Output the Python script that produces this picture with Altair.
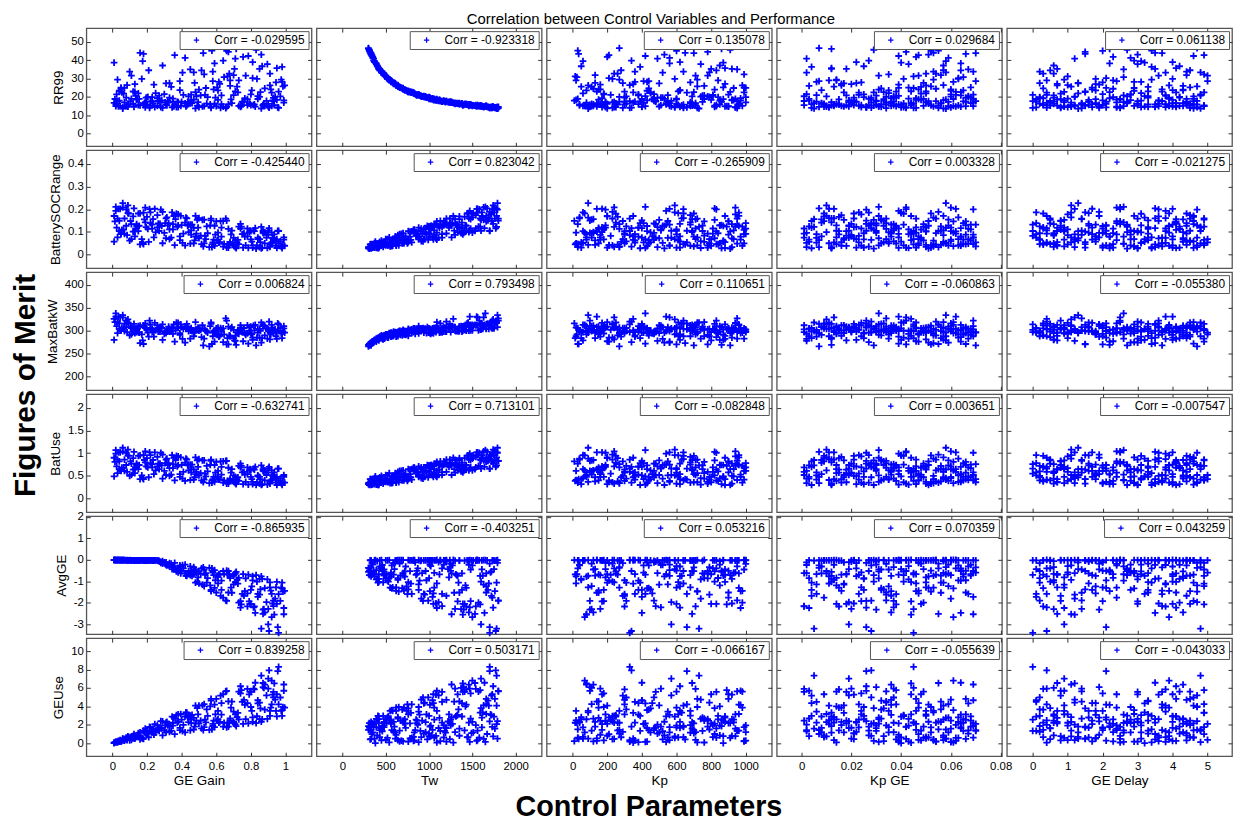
import altair as alt
import pandas as pd

# ---- control parameters (one value per simulated run) ----
GE_GAIN = [0.02, 0.95, 0.47, 0.71, 0.18, 0.86, 0.33, 0.59, 0.08, 0.99,
           0.26, 0.64, 0.41, 0.12, 0.78, 0.53, 0.05, 0.90, 0.37, 0.68,
           0.22, 0.83, 0.15, 0.50, 0.97, 0.29, 0.74, 0.44, 0.03, 0.61,
           0.88, 0.19, 0.56, 0.35, 0.80, 0.10, 0.66, 0.48, 0.93, 0.24,
           0.73, 0.07, 0.42, 0.85, 0.31, 0.58, 0.14, 0.96, 0.39, 0.69,
           0.01, 0.52, 0.81, 0.27, 0.63, 0.16, 0.92, 0.45, 0.76, 0.09,
           0.34, 0.55, 0.98, 0.20, 0.67, 0.04, 0.87, 0.30, 0.60, 0.13,
           0.79, 0.43, 0.91, 0.23, 0.70, 0.06, 0.50, 0.84, 0.38, 0.11,
           0.045, 0.915, 0.515, 0.325, 0.765, 0.175, 0.625, 0.985, 0.275, 0.455,
           0.835, 0.095, 0.575, 0.355, 0.725, 0.015, 0.875, 0.405, 0.655, 0.205,
           0.945, 0.495, 0.125, 0.785, 0.315, 0.685, 0.055, 0.545, 0.895, 0.245,
           0.605, 0.375, 0.815, 0.145, 0.475, 0.955, 0.025, 0.705, 0.425, 0.855,
           0.185, 0.645, 0.345, 0.925, 0.085, 0.565, 0.755, 0.265, 0.485, 0.035,
           0.805, 0.395, 0.675, 0.155, 0.935, 0.525, 0.285, 0.745, 0.065, 0.615,
           0.435, 0.865, 0.215, 0.595, 0.995, 0.365, 0.105, 0.715, 0.535, 0.825,
           0.235, 0.665, 0.455, 0.905, 0.135, 0.585, 0.795, 0.305, 0.975, 0.195,
           0.03, 0.51, 0.88, 0.17, 0.64, 0.36, 0.93, 0.08, 0.72, 0.45,
           0.21, 0.99, 0.57, 0.12, 0.81, 0.40, 0.68, 0.02, 0.94, 0.28,
           0.54, 0.75, 0.16, 0.87, 0.33, 0.62, 0.06, 0.47, 0.90, 0.25,
           0.78, 0.11, 0.59, 0.38, 0.96, 0.19, 0.70, 0.49, 0.84, 0.05,
           0.42, 0.66, 0.14, 0.92, 0.31, 0.57, 0.80, 0.23, 0.98, 0.09,
           0.53, 0.73, 0.35, 0.86, 0.18, 0.61, 0.44, 0.01, 0.77, 0.29,
           0.89, 0.13, 0.67, 0.39, 0.95, 0.22, 0.58, 0.82, 0.07, 0.48,
           0.71, 0.32, 0.91, 0.15, 0.63, 0.46, 0.85, 0.26, 0.74, 0.04]
TW = [1650, 420, 1120, 760, 330, 1780, 590, 1430, 980, 1260,
      1540, 360, 870, 1350, 1050, 480, 700, 1600, 1720, 640,
      1180, 310, 820, 1690, 930, 400, 1480, 1310, 540, 1090,
      690, 1760, 300, 1020, 1390, 450, 1800, 780, 1150, 620,
      1570, 1240, 350, 950, 1460, 560, 1080, 1700, 730, 1290,
      380, 1630, 520, 900, 1380, 1510, 800, 430, 1200, 1740,
      660, 1000, 570, 1410, 320, 1130, 1530, 840, 1660, 610,
      1330, 1590, 470, 960, 880, 1790, 720, 1040, 1220, 500,
      1560, 710, 440, 1270, 1010, 370, 1720, 650, 1190, 860,
      530, 1440, 310, 1610, 790, 1090, 1370, 460, 1800, 940,
      580, 1230, 1670, 340, 1500, 1060, 820, 1340, 390, 1780,
      670, 1150, 1470, 1000, 600, 1700, 880, 420, 1620, 760,
      1300, 510, 1750, 1080, 640, 1420, 350, 1200, 920, 1550,
      740, 1660, 480, 1030, 1390, 330, 1110, 1590, 830, 560,
      1260, 405, 1730, 970, 620, 1480, 1170, 300, 850, 1640,
      1350, 490, 1060, 1770, 910, 700, 1410, 1250, 550, 1000,
      1200, 860, 1460, 520, 1730, 340, 990, 1580, 640, 1320,
      430, 1090, 1680, 780, 370, 1250, 560, 1470, 910, 1790,
      700, 1150, 320, 1400, 1010, 590, 1630, 450, 1300, 830,
      1540, 1060, 390, 1710, 750, 1190, 480, 1600, 940, 660,
      1380, 310, 1020, 1500, 610, 1760, 880, 1130, 410, 1450,
      1660, 540, 1240, 330, 1560, 720, 960, 1280, 500, 1700,
      1110, 800, 1350, 570, 1050, 1610, 460, 1430, 680, 1780,
      360, 1170, 620, 1490, 890, 1330, 420, 1040, 1740, 760]
KP = [420, 880, 150, 610, 35, 730, 290, 960, 520, 80,
      680, 340, 810, 200, 460, 990, 120, 570, 250, 760,
      390, 910, 60, 640, 310, 850, 180, 540, 720, 20,
      440, 940, 270, 600, 830, 360, 100, 700, 480, 160,
      980, 230, 560, 790, 40, 410, 920, 330, 620, 140,
      870, 500, 210, 750, 380, 70, 660, 950, 300, 590,
      110, 840, 430, 260, 780, 10, 690, 470, 900, 350,
      170, 630, 240, 1000, 550, 90, 820, 400, 190, 710,
      560, 150, 830, 410, 970, 60, 290, 720, 480, 900,
      230, 640, 30, 880, 350, 760, 110, 520, 950, 270,
      680, 190, 820, 420, 40, 600, 990, 310, 740, 170,
      870, 240, 510, 940, 130, 660, 380, 800, 90, 450,
      710, 25, 590, 920, 330, 850, 200, 470, 780, 140,
      620, 960, 260, 530, 80, 700, 430, 890, 180, 360,
      750, 50, 640, 300, 980, 120, 550, 860, 220, 400,
      690, 15, 930, 340, 810, 160, 600, 1000, 270, 490,
      330, 760, 120, 590, 900, 210, 470, 830, 50, 680,
      280, 970, 400, 140, 620, 860, 20, 540, 740, 190,
      930, 360, 650, 100, 510, 880, 240, 790, 160, 450,
      710, 30, 560, 940, 300, 680, 130, 820, 420, 990,
      250, 600, 870, 70, 500, 720, 180, 950, 390, 610,
      110, 840, 270, 530, 960, 80, 690, 350, 780, 230,
      570, 910, 150, 440, 800, 60, 640, 300, 1000, 200,
      490, 850, 90, 700, 380, 560, 920, 170, 620, 430]
KP_GE = [0.031, 0.012, 0.058, 0.044, 0.066, 0.005, 0.022, 0.051, 0.038, 0.069,
         0.016, 0.027, 0.062, 0.009, 0.047, 0.035, 0.054, 0.019, 0.041, 0.003,
         0.065, 0.029, 0.050, 0.011, 0.037, 0.057, 0.024, 0.068, 0.014, 0.046,
         0.032, 0.060, 0.007, 0.043, 0.018, 0.053, 0.026, 0.064, 0.001, 0.039,
         0.049, 0.021, 0.059, 0.034, 0.013, 0.070, 0.028, 0.045, 0.008, 0.056,
         0.040, 0.017, 0.063, 0.030, 0.004, 0.052, 0.023, 0.067, 0.036, 0.010,
         0.048, 0.025, 0.061, 0.015, 0.042, 0.033, 0.055, 0.002, 0.066, 0.020,
         0.044, 0.012, 0.050, 0.037, 0.006, 0.058, 0.031, 0.069, 0.019, 0.047,
         0.013, 0.047, 0.064, 0.028, 0.036, 0.058, 0.004, 0.052, 0.020, 0.069,
         0.041, 0.009, 0.055, 0.031, 0.017, 0.061, 0.045, 0.002, 0.034, 0.067,
         0.024, 0.050, 0.007, 0.039, 0.063, 0.015, 0.029, 0.056, 0.043, 0.011,
         0.068, 0.022, 0.037, 0.003, 0.049, 0.026, 0.060, 0.018, 0.053, 0.033,
         0.008, 0.065, 0.040, 0.021, 0.057, 0.014, 0.046, 0.030, 0.001, 0.062,
         0.035, 0.010, 0.054, 0.027, 0.044, 0.070, 0.019, 0.038, 0.048, 0.006,
         0.059, 0.025, 0.042, 0.066, 0.016, 0.032, 0.051, 0.012, 0.023, 0.064,
         0.005, 0.045, 0.057, 0.028, 0.039, 0.060, 0.014, 0.034, 0.053, 0.021,
         0.054, 0.018, 0.036, 0.063, 0.009, 0.047, 0.028, 0.069, 0.013, 0.041,
         0.057, 0.003, 0.032, 0.050, 0.022, 0.066, 0.011, 0.039, 0.060, 0.026,
         0.045, 0.006, 0.053, 0.030, 0.068, 0.016, 0.042, 0.058, 0.020, 0.035,
         0.001, 0.049, 0.064, 0.024, 0.038, 0.012, 0.056, 0.029, 0.067, 0.043,
         0.008, 0.052, 0.033, 0.061, 0.017, 0.046, 0.025, 0.070, 0.004, 0.040,
         0.059, 0.014, 0.037, 0.051, 0.027, 0.065, 0.010, 0.044, 0.031, 0.055,
         0.019, 0.062, 0.034, 0.007, 0.048, 0.023, 0.069, 0.015, 0.039, 0.057,
         0.002, 0.030, 0.050, 0.021, 0.064, 0.036, 0.012, 0.046, 0.026, 0.060]
GE_DELAY = [2.6, 4.1, 0.7, 3.3, 1.5, 4.8, 0.2, 2.1, 3.9, 1.1,
            4.5, 2.9, 0.4, 3.6, 1.8, 4.9, 2.3, 0.9, 3.1, 4.3,
            0.1, 2.7, 1.3, 3.8, 4.6, 0.6, 2.0, 4.0, 3.4, 1.6,
            0.3, 2.4, 4.7, 1.0, 3.0, 4.4, 0.8, 2.2, 3.7, 1.9,
            4.2, 0.5, 2.8, 1.2, 3.5, 5.0, 2.5, 0.0, 4.0, 1.4,
            3.2, 0.9, 2.1, 4.8, 1.7, 3.9, 0.4, 2.6, 4.4, 1.1,
            3.3, 0.2, 2.9, 4.6, 1.5, 3.6, 0.7, 2.0, 4.1, 1.8,
            3.0, 4.9, 0.6, 2.3, 3.8, 1.3, 4.3, 0.1, 2.7, 5.0,
            1.2, 3.7, 0.5, 4.4, 2.2, 3.1, 0.8, 4.7, 1.6, 2.8,
            4.0, 0.3, 3.4, 1.9, 4.9, 2.5, 0.6, 3.8, 1.4, 4.2,
            2.0, 0.9, 3.5, 4.6, 1.1, 2.4, 4.1, 0.2, 3.0, 1.7,
            4.5, 2.7, 0.4, 3.9, 1.3, 2.1, 4.8, 0.7, 3.2, 1.5,
            4.3, 2.6, 0.1, 3.6, 1.0, 4.7, 2.3, 0.5, 3.3, 4.0,
            1.8, 2.9, 0.3, 4.4, 1.2, 3.7, 2.0, 4.9, 0.8, 3.1,
            1.6, 4.2, 2.5, 0.6, 3.9, 1.4, 4.6, 2.2, 0.0, 3.5,
            4.1, 1.0, 2.8, 0.4, 3.8, 1.7, 4.5, 2.4, 0.9, 3.3,
            3.0, 0.6, 4.3, 1.8, 2.4, 4.9, 0.2, 3.6, 1.1, 2.7,
            4.5, 0.9, 3.3, 1.5, 4.0, 2.1, 0.4, 3.8, 1.2, 4.7,
            2.9, 0.1, 3.5, 1.9, 4.2, 0.7, 2.5, 4.8, 1.4, 3.1,
            0.3, 4.6, 2.2, 1.0, 3.7, 2.6, 4.4, 0.5, 3.2, 1.7,
            4.1, 2.0, 0.8, 3.9, 1.3, 4.5, 2.8, 0.0, 3.4, 1.6,
            4.9, 2.3, 0.6, 3.0, 1.1, 4.3, 2.7, 0.4, 3.6, 1.9,
            4.7, 0.9, 3.3, 2.4, 4.0, 1.5, 0.2, 3.8, 2.1, 4.6,
            1.2, 3.1, 0.7, 4.4, 2.6, 1.8, 3.5, 0.3, 4.1, 2.9]

# ---- figures of merit ----
RR99 = [14.9, 35.7, 18.4, 23.0, 43.4, 13.6, 27.5, 16.2, 19.5, 16.8,
        15.1, 39.8, 21.1, 16.2, 18.7, 32.2, 24.4, 14.8, 14.3, 26.0,
        17.5, 45.7, 21.9, 14.4, 20.2, 37.1, 15.4, 16.5, 29.4, 18.3,
        24.6, 14.2, 46.6, 19.0, 15.5, 33.8, 14.5, 22.6, 17.7, 26.6,
        15.0, 17.0, 41.3, 19.9, 15.9, 28.6, 18.4, 13.9, 23.7, 16.6,
        38.7, 14.7, 30.2, 20.6, 16.0, 15.3, 22.3, 35.0, 17.3, 14.6,
        25.4, 19.8, 28.2, 15.8, 44.5, 17.9, 15.2, 21.5, 14.9, 26.9,
        16.3, 15.3, 32.7, 19.8, 20.9, 13.5, 23.9, 18.8, 17.1, 31.6,
        15.0, 24.1, 34.4, 16.8, 19.2, 39.5, 14.0, 25.7, 17.4, 21.2,
        29.8, 15.7, 45.2, 14.8, 22.4, 18.8, 16.1, 33.2, 13.8, 20.0,
        27.9, 17.1, 14.5, 42.3, 15.3, 18.6, 22.4, 16.3, 37.9, 14.3,
        25.1, 17.3, 15.5, 18.9, 27.6, 14.2, 21.3, 35.2, 14.7, 22.6,
        16.5, 30.7, 14.2, 18.0, 26.4, 15.8, 41.8, 17.7, 20.3, 14.7,
        23.5, 15.0, 32.7, 18.9, 15.4, 43.9, 18.1, 14.9, 21.7, 28.2,
        17.2, 36.7, 13.9, 19.6, 26.2, 15.8, 17.6, 46.2, 21.0, 14.6,
        16.6, 31.2, 18.2, 14.1, 20.5, 24.0, 16.2, 16.9, 29.4, 19.6,
        17.6, 20.8, 15.1, 29.8, 14.6, 42.8, 19.4, 14.9, 25.6, 16.4,
        34.5, 18.0, 14.5, 22.9, 39.0, 17.3, 29.0, 15.9, 20.1, 14.4,
        24.8, 17.4, 44.0, 15.6, 19.5, 27.1, 14.4, 33.3, 16.1, 22.0,
        15.4, 18.9, 38.3, 14.3, 22.8, 17.1, 31.8, 15.2, 20.4, 25.0,
        16.4, 45.1, 18.7, 15.0, 27.3, 13.9, 21.3, 17.6, 36.4, 15.6,
        14.9, 29.0, 17.4, 43.0, 15.4, 23.5, 20.2, 16.7, 31.6, 14.0,
        17.8, 22.7, 15.8, 28.6, 18.3, 15.1, 33.7, 15.9, 24.9, 13.7,
        40.9, 17.9, 26.2, 15.4, 20.8, 16.6, 35.2, 19.2, 14.5, 23.3]
SOC_RANGE = [0.210, 0.029, 0.118, 0.064, 0.046, 0.122, 0.068, 0.127, 0.127, 0.076,
             0.174, 0.035, 0.092, 0.168, 0.080, 0.049, 0.095, 0.105, 0.180, 0.056,
             0.139, 0.026, 0.103, 0.161, 0.058, 0.050, 0.115, 0.132, 0.076, 0.097,
             0.049, 0.207, 0.033, 0.111, 0.103, 0.062, 0.150, 0.079, 0.075, 0.076,
             0.123, 0.159, 0.041, 0.068, 0.160, 0.054, 0.134, 0.104, 0.080, 0.106,
             0.057, 0.153, 0.041, 0.104, 0.119, 0.182, 0.054, 0.048, 0.093, 0.217,
             0.075, 0.094, 0.037, 0.166, 0.031, 0.149, 0.104, 0.096, 0.146, 0.080,
             0.099, 0.160, 0.034, 0.114, 0.074, 0.227, 0.072, 0.075, 0.129, 0.068,
             0.201, 0.049, 0.046, 0.139, 0.079, 0.051, 0.148, 0.041, 0.135, 0.088,
             0.041, 0.181, 0.033, 0.170, 0.065, 0.146, 0.094, 0.052, 0.158, 0.113,
             0.039, 0.119, 0.204, 0.030, 0.164, 0.089, 0.109, 0.124, 0.029, 0.202,
             0.062, 0.122, 0.107, 0.124, 0.063, 0.105, 0.119, 0.038, 0.163, 0.055,
             0.155, 0.047, 0.186, 0.071, 0.086, 0.129, 0.031, 0.137, 0.092, 0.201,
             0.057, 0.171, 0.044, 0.127, 0.089, 0.036, 0.126, 0.123, 0.110, 0.053,
             0.128, 0.031, 0.200, 0.088, 0.039, 0.156, 0.148, 0.028, 0.082, 0.117,
             0.156, 0.045, 0.107, 0.116, 0.115, 0.066, 0.105, 0.139, 0.036, 0.121,
             0.158, 0.084, 0.099, 0.068, 0.147, 0.042, 0.065, 0.199, 0.054, 0.132,
             0.056, 0.066, 0.151, 0.101, 0.031, 0.130, 0.050, 0.193, 0.059, 0.198,
             0.068, 0.090, 0.045, 0.096, 0.111, 0.055, 0.208, 0.049, 0.087, 0.098,
             0.115, 0.134, 0.039, 0.177, 0.049, 0.142, 0.043, 0.153, 0.068, 0.090,
             0.141, 0.031, 0.127, 0.097, 0.072, 0.158, 0.067, 0.132, 0.028, 0.183,
             0.154, 0.046, 0.134, 0.027, 0.185, 0.066, 0.099, 0.170, 0.041, 0.188,
             0.075, 0.102, 0.113, 0.064, 0.067, 0.186, 0.046, 0.103, 0.091, 0.171,
             0.033, 0.129, 0.043, 0.181, 0.079, 0.132, 0.033, 0.120, 0.135, 0.103]
MAX_BAT_KW = [338, 282, 296, 289, 271, 318, 298, 300, 308, 310,
              312, 275, 304, 309, 294, 283, 302, 303, 318, 288,
              306, 268, 297, 304, 306, 280, 312, 299, 295, 307,
              290, 316, 266, 293, 309, 290, 322, 302, 297, 287,
              301, 315, 274, 304, 300, 296, 297, 314, 291, 308,
              280, 312, 285, 305, 298, 311, 303, 283, 306, 325,
              299, 296, 295, 302, 270, 316, 313, 293, 305, 297,
              300, 315, 281, 303, 302, 334, 300, 296, 308, 292,
              329, 292, 286, 309, 295, 279, 306, 298, 298, 303,
              285, 316, 271, 314, 301, 319, 310, 282, 327, 296,
              288, 307, 315, 272, 301, 305, 305, 299, 283, 317,
              291, 306, 311, 304, 296, 316, 310, 279, 304, 300,
              308, 292, 305, 307, 297, 310, 277, 298, 303, 331,
              292, 314, 290, 296, 300, 268, 306, 303, 305, 287,
              309, 284, 322, 295, 296, 301, 308, 269, 302, 313,
              299, 284, 306, 320, 304, 299, 308, 297, 294, 305,
              320, 302, 311, 292, 305, 276, 296, 322, 297, 300,
              287, 305, 315, 299, 280, 308, 288, 331, 303, 308,
              299, 297, 273, 310, 304, 289, 329, 288, 300, 301,
              312, 306, 276, 317, 300, 306, 284, 303, 304, 300,
              309, 270, 303, 313, 295, 318, 294, 297, 284, 318,
              304, 293, 307, 274, 312, 292, 304, 326, 291, 314,
              305, 295, 309, 295, 297, 313, 288, 301, 299, 319,
              278, 298, 296, 310, 302, 299, 285, 305, 307, 304]
BAT_USE = [1.07, 0.30, 0.64, 0.48, 0.43, 0.73, 0.50, 0.74, 0.74, 0.52,
           0.92, 0.35, 0.59, 0.89, 0.54, 0.42, 0.62, 0.66, 0.94, 0.44,
           0.78, 0.30, 0.65, 0.87, 0.44, 0.44, 0.69, 0.75, 0.56, 0.61,
           0.40, 1.04, 0.34, 0.67, 0.64, 0.50, 0.83, 0.54, 0.52, 0.54,
           0.72, 0.86, 0.39, 0.48, 0.86, 0.43, 0.77, 0.66, 0.54, 0.65,
           0.49, 0.84, 0.37, 0.65, 0.70, 0.95, 0.42, 0.41, 0.59, 1.08,
           0.53, 0.60, 0.34, 0.89, 0.33, 0.82, 0.65, 0.61, 0.81, 0.56,
           0.62, 0.86, 0.33, 0.69, 0.51, 1.12, 0.51, 0.51, 0.74, 0.52,
           1.02, 0.40, 0.40, 0.78, 0.53, 0.45, 0.82, 0.36, 0.77, 0.58,
           0.36, 0.94, 0.35, 0.90, 0.47, 0.81, 0.60, 0.44, 0.83, 0.69,
           0.35, 0.70, 1.03, 0.31, 0.88, 0.57, 0.68, 0.72, 0.31, 1.02,
           0.47, 0.71, 0.66, 0.73, 0.47, 0.66, 0.71, 0.36, 0.88, 0.43,
           0.85, 0.40, 0.96, 0.50, 0.59, 0.74, 0.32, 0.77, 0.59, 1.02,
           0.43, 0.91, 0.38, 0.74, 0.58, 0.36, 0.73, 0.72, 0.68, 0.42,
           0.73, 0.32, 1.02, 0.57, 0.35, 0.85, 0.82, 0.32, 0.55, 0.70,
           0.85, 0.39, 0.65, 0.70, 0.69, 0.48, 0.65, 0.78, 0.34, 0.71,
           0.86, 0.56, 0.62, 0.51, 0.82, 0.40, 0.47, 1.01, 0.43, 0.75,
           0.47, 0.48, 0.83, 0.64, 0.32, 0.74, 0.41, 0.99, 0.45, 1.01,
           0.49, 0.58, 0.43, 0.61, 0.67, 0.43, 1.04, 0.42, 0.57, 0.62,
           0.69, 0.77, 0.37, 0.93, 0.39, 0.80, 0.38, 0.84, 0.49, 0.61,
           0.79, 0.33, 0.74, 0.62, 0.52, 0.86, 0.48, 0.76, 0.30, 0.95,
           0.84, 0.39, 0.76, 0.30, 0.96, 0.48, 0.62, 0.90, 0.37, 0.97,
           0.52, 0.65, 0.68, 0.48, 0.48, 0.96, 0.40, 0.64, 0.61, 0.91,
           0.34, 0.74, 0.37, 0.94, 0.53, 0.75, 0.33, 0.71, 0.77, 0.65]
AVG_GE = [-0.01, -1.03, -0.68, -1.04, -0.02, -3.20, -0.15, -1.30, -0.02, -2.53,
          -0.04, -0.52, -0.40, -0.03, -1.56, -0.45, -0.01, -3.00, -0.54, -0.85,
          -0.03, -0.71, -0.02, -1.10, -1.91, -0.06, -1.92, -0.67, -0.01, -1.09,
          -1.32, -0.04, -0.37, -0.29, -2.05, -0.01, -1.91, -0.53, -2.15, -0.03,
          -1.99, -0.01, -0.22, -1.62, -0.23, -0.59, -0.02, -3.40, -0.31, -1.53,
          -0.01, -1.15, -0.96, -0.05, -1.40, -0.03, -1.58, -0.30, -1.67, -0.02,
          -0.18, -0.85, -1.33, -0.04, -0.52, -0.01, -2.51, -0.12, -1.52, -0.02,
          -1.93, -0.75, -1.05, -0.03, -1.14, -0.01, -0.54, -1.72, -0.43, -0.02,
          -0.01, -1.43, -0.40, -0.26, -1.46, -0.02, -1.68, -1.48, -0.08, -0.51,
          -1.01, -0.02, -0.40, -0.44, -1.11, 0.00, -2.29, -0.24, -1.89, -0.03,
          -1.28, -0.82, -0.02, -0.69, -0.26, -1.29, -0.01, -1.06, -0.91, -0.03,
          -0.73, -0.40, -2.21, -0.02, -0.43, -3.13, -0.01, -0.67, -0.74, -1.37,
          -0.04, -0.67, -0.43, -2.03, -0.01, -1.19, -0.66, -0.05, -0.62, 0.00,
          -1.23, -0.63, -0.69, -0.02, -2.55, -0.35, -0.11, -2.07, -0.01, -0.66,
          -0.63, -0.89, -0.03, -0.95, -1.44, -0.45, -0.02, -0.56, -0.70, -2.47,
          -0.04, -0.68, -0.61, -3.31, -0.02, -0.71, -2.05, -0.19, -1.29, -0.03,
          -0.01, -0.65, -2.44, -0.02, -1.76, -0.14, -1.90, -0.02, -0.93, -0.71,
          -0.03, -2.24, -1.40, -0.02, -0.76, -0.51, -0.77, -0.01, -1.80, -0.14,
          -0.62, -1.58, -0.02, -2.32, -0.23, -0.69, -0.01, -0.34, -2.28, -0.03,
          -2.16, -0.02, -0.48, -0.58, -1.59, -0.03, -0.73, -1.01, -1.58, -0.01,
          -0.63, -0.50, -0.02, -2.66, -0.12, -1.46, -1.40, -0.03, -1.06, -0.02,
          -1.22, -0.84, -0.34, -0.77, -0.03, -0.78, -0.52, 0.00, -0.86, -0.18,
          -1.97, -0.02, -1.52, -0.26, -2.05, -0.03, -0.52, -2.17, -0.01, -1.06,
          -0.62, -0.22, -1.28, -0.02, -0.97, -0.75, -0.89, -0.03, -2.22, -0.01]
GE_USE = [0.16, 2.93, 2.76, 3.15, 0.49, 7.33, 1.24, 4.20, 0.43, 6.38,
          1.97, 1.82, 2.00, 0.82, 4.37, 1.76, 0.21, 7.02, 3.06, 2.69,
          1.35, 2.19, 0.70, 4.08, 4.97, 0.87, 5.42, 2.92, 0.11, 3.51,
          3.66, 1.60, 1.46, 1.92, 5.57, 0.32, 5.68, 2.17, 5.58, 0.93,
          5.61, 0.45, 1.18, 4.42, 2.24, 2.11, 0.80, 8.30, 1.68, 4.53,
          0.03, 4.12, 2.82, 1.35, 4.36, 1.19, 4.23, 1.40, 4.71, 0.75,
          1.37, 2.97, 3.61, 1.41, 1.80, 0.24, 6.54, 1.43, 4.82, 0.50,
          5.31, 3.34, 2.98, 1.21, 3.44, 0.51, 2.14, 4.67, 2.39, 0.37,
          0.34, 3.88, 1.63, 2.11, 4.16, 0.50, 5.18, 3.94, 1.69, 2.20,
          2.94, 0.68, 1.52, 2.78, 3.31, 0.09, 6.02, 1.31, 5.63, 1.06,
          3.52, 3.13, 1.01, 2.17, 2.33, 3.86, 0.26, 3.68, 2.65, 2.09,
          2.47, 2.25, 5.93, 0.78, 1.81, 7.83, 0.12, 2.17, 3.35, 3.80,
          1.22, 2.22, 2.90, 5.29, 0.34, 4.00, 2.11, 1.64, 2.46, 0.27,
          3.51, 3.18, 2.24, 0.86, 6.51, 1.43, 1.66, 5.78, 0.31, 2.24,
          2.80, 2.61, 1.79, 3.14, 3.86, 2.67, 0.64, 1.86, 2.57, 6.57,
          1.60, 2.23, 2.57, 7.90, 0.68, 2.46, 5.60, 1.95, 3.51, 1.05,
          0.19, 2.47, 6.37, 0.59, 5.32, 0.99, 4.98, 0.62, 2.85, 3.01,
          0.66, 5.70, 4.63, 0.54, 2.33, 2.56, 2.48, 0.15, 4.74, 2.40,
          2.27, 4.50, 0.43, 6.09, 1.80, 2.33, 0.48, 1.50, 5.94, 1.18,
          5.90, 0.62, 1.75, 3.13, 4.22, 1.17, 2.32, 3.82, 4.33, 0.20,
          2.91, 1.74, 0.77, 6.81, 1.19, 4.81, 3.94, 1.36, 2.98, 0.65,
          4.26, 2.60, 2.23, 2.34, 1.38, 2.61, 2.31, 0.07, 2.62, 2.38,
          5.20, 0.60, 4.56, 1.44, 5.32, 1.72, 1.88, 5.84, 0.29, 4.09,
          2.02, 1.95, 3.53, 1.10, 3.12, 3.09, 2.62, 1.45, 6.19, 0.18]

PARAM_NAMES = ["GE Gain", "Tw", "Kp", "Kp GE", "GE Delay"]
MERIT_NAMES = ["RR99", "BatterySOCRange", "MaxBatkW", "BatUse", "AvgGE", "GEUse"]

CORR_LABELS = [
    ["-0.029595", "-0.923318", "0.135078", "0.029684", "0.061138"],
    ["-0.425440", "0.823042", "-0.265909", "0.003328", "-0.021275"],
    ["0.006824", "0.793498", "0.110651", "-0.060863", "-0.055380"],
    ["-0.632741", "0.713101", "-0.082848", "0.003651", "-0.007547"],
    ["-0.865935", "-0.403251", "0.053216", "0.070359", "0.043259"],
    ["0.839258", "0.503171", "-0.066167", "-0.055639", "-0.043033"],
]

X_DOMAINS = [[-0.15, 1.15], [-300, 2300], [-150, 1150], [-0.01, 0.0805], [-0.74, 5.7]]
X_TICKS = [[0, 0.2, 0.4, 0.6, 0.8, 1],
           [0, 500, 1000, 1500, 2000],
           [0, 200, 400, 600, 800, 1000],
           [0, 0.02, 0.04, 0.06, 0.08],
           [0, 1, 2, 3, 4, 5]]
Y_DOMAINS = [[-7, 57.5], [-0.06, 0.46], [170, 428], [-0.3, 2.3], [-3.46, 2.03], [-1.4, 11.4]]
Y_TICKS = [[0, 10, 20, 30, 40, 50],
           [0, 0.1, 0.2, 0.3, 0.4],
           [200, 250, 300, 350, 400],
           [0, 0.5, 1, 1.5, 2],
           [-3, -2, -1, 0, 1, 2],
           [0, 2, 4, 6, 8, 10]]

PARAM_COLS = [GE_GAIN, TW, KP, KP_GE, GE_DELAY]
MERIT_COLS = [RR99, SOC_RANGE, MAX_BAT_KW, BAT_USE, AVG_GE, GE_USE]

data = {}
for i, col in enumerate(PARAM_COLS):
    data[f"p{i}"] = col
for j, col in enumerate(MERIT_COLS):
    data[f"m{j}"] = col
df = pd.DataFrame(data)

FONT = "Liberation Sans"
BLUE = "#0000ff"
PLUS = "M-1,0L1,0M0,-1L0,1"
W, H = 227, 119
LABEL_EXPR = "'' + datum.value"


def make_panel(r, c):
    last_row = r == len(MERIT_NAMES) - 1
    first_col = c == 0
    label = "Corr = " + CORR_LABELS[r][c]
    xs = alt.Scale(domain=X_DOMAINS[c], nice=False, zero=False)
    ys = alt.Scale(domain=Y_DOMAINS[r], nice=False, zero=False)
    xf, yf = f"p{c}:Q", f"m{r}:Q"

    x_axis = alt.Axis(values=X_TICKS[c], labels=last_row,
                      title=PARAM_NAMES[c] if last_row else None,
                      offset=-4, tickSize=4, labelPadding=4, titlePadding=2,
                      labelExpr=LABEL_EXPR, labelOverlap=False)
    y_axis = alt.Axis(values=Y_TICKS[r], labels=first_col,
                      title=MERIT_NAMES[r] if first_col else None,
                      offset=-4, tickSize=4, labelPadding=3, titlePadding=5,
                      labelExpr=LABEL_EXPR, labelOverlap=False)

    pts = alt.Chart(df).transform_calculate(
        lab=f"'{label}'"
    ).mark_point(shape=PLUS, filled=False, size=46, strokeWidth=1.8, opacity=1).encode(
        x=alt.X(xf, scale=xs, axis=x_axis),
        y=alt.Y(yf, scale=ys, axis=y_axis),
        color=alt.Color("lab:N", scale=alt.Scale(domain=[label], range=[BLUE]),
                        legend=alt.Legend(orient="top-right", title=None, offset=3,
                                          padding=3, strokeColor="#555", fillColor="white",
                                          symbolType=PLUS, symbolSize=30, symbolStrokeWidth=1.3,
                                          symbolOffset=8, labelOffset=12, labelFont=FONT,
                                          labelFontSize=12, labelColor="black", labelLimit=300,
                                          cornerRadius=0)),
    )
    frame = alt.Chart(df).mark_point(opacity=0).encode(
        x=alt.X(xf, scale=xs, axis=alt.Axis(orient="top", values=X_TICKS[c], labels=False,
                                            title=None, offset=-4, tickSize=4)),
        y=alt.Y(yf, scale=ys, axis=alt.Axis(orient="right", values=Y_TICKS[r], labels=False,
                                            title=None, offset=-4, tickSize=4)),
    )
    return alt.layer(pts, frame).resolve_axis(x="independent", y="independent").properties(
        width=W, height=H)


panels = [make_panel(r, c) for r in range(len(MERIT_NAMES)) for c in range(len(PARAM_NAMES))]

grid = alt.concat(*panels, columns=5, spacing={"row": 4, "column": 5}, bounds="flush").resolve_scale(
    color="independent", x="independent", y="independent")

lvl1 = grid.properties(title=alt.TitleParams("Control Parameters", orient="bottom", anchor="middle",
                                             fontSize=29, fontWeight="bold", font=FONT,
                                             color="black", offset=6, dx=10))
lvl2 = alt.vconcat(lvl1, title=alt.TitleParams("Correlation between Control Variables and Performance",
                                               anchor="middle", fontSize=15, fontWeight="normal",
                                               font=FONT, color="black", offset=0, dx=12))
chart = alt.hconcat(lvl2, title=alt.TitleParams("Figures of Merit", orient="left", anchor="middle",
                                                fontSize=30, fontWeight="bold", font=FONT,
                                                color="black", offset=4, dx=32)).properties(
    padding={"left": 3, "top": 0, "right": 0, "bottom": 0}
).configure_view(stroke="#555", strokeWidth=1.3).configure_axis(
    labelFont=FONT, titleFont=FONT, labelColor="black", titleColor="black", tickColor="#333",
    labelFontSize=11.5, titleFontSize=13.5, titleFontWeight="normal", grid=False, domain=False
).configure_legend(labelFont=FONT)

chart.save("out.html", embed_options={"renderer": "svg", "actions": False})
